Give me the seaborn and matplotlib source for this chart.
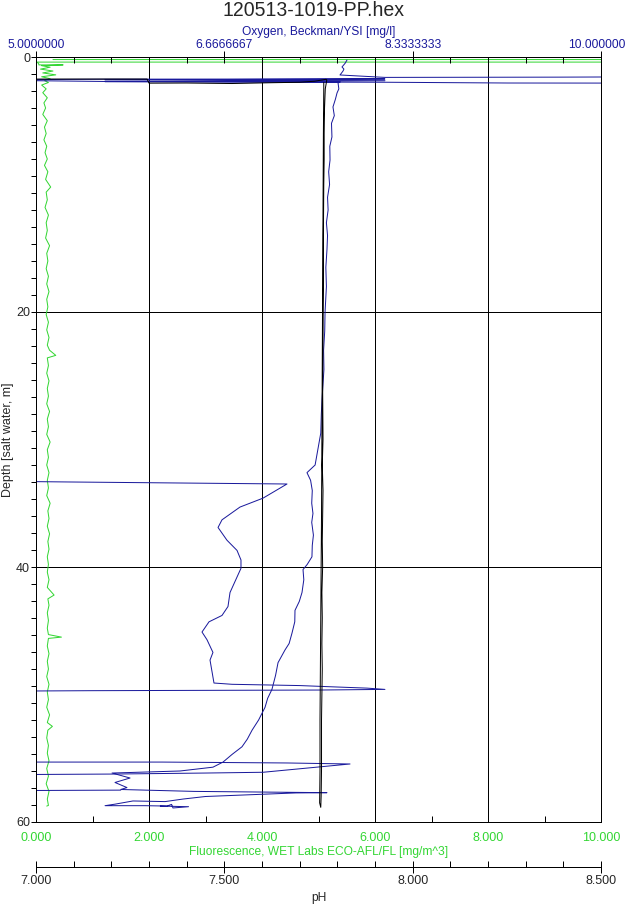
import warnings; warnings.filterwarnings("ignore")
import matplotlib
matplotlib.use("Agg")
import numpy as np
import pandas as pd
import matplotlib.pyplot as plt
from matplotlib.ticker import FixedLocator, FormatStrFormatter, FixedFormatter
from matplotlib.transforms import ScaledTranslation
import seaborn as sns

sns.set_theme(style="white")
plt.rcParams["font.family"] = ["Liberation Sans", "DejaVu Sans"]

GREEN = "#33d633"
NAVY  = "#1a1a9c"
OFF_L, OFF_R = 4.4, 10.6    # sensor values beyond the oxygen axis range

# ── Fluorescence (green) ─────────────────────────────────────────────────────
fl_depth = [0.20, 0.20, 0.40, 0.40, 0.55, 0.62, 0.62, 0.68, 0.80, 0.95, 1.10, 1.25, 1.40,
            1.55, 1.70, 1.85, 2.00, 2.20, 2.50, 2.80, 3.20, 3.60, 4.00, 4.50, 5.00, 5.50,
            6.00, 6.50, 7.00, 7.50, 8.00, 8.50, 9.00, 9.60, 10.2, 10.6, 11.2, 11.8, 12.4,
            13.0, 13.6, 14.2, 14.8, 15.4, 16.0, 16.6, 17.2, 17.8, 18.4, 19.0, 19.6, 20.2,
            20.8, 21.4, 22.0, 22.6, 23.0, 23.4, 23.6, 24.2, 24.8, 25.4, 26.0, 26.6, 27.2,
            27.8, 28.4, 29.0, 29.6, 30.2, 30.8, 31.4, 32.0, 32.6, 33.2, 33.8, 34.4, 35.0,
            35.6, 36.2, 36.8, 37.4, 38.0, 38.6, 39.2, 39.8, 40.4, 41.0, 41.6, 42.2, 42.5,
            43.0, 43.6, 44.2, 44.8, 45.3, 45.5, 45.6, 46.2, 46.8, 47.4, 48.0, 48.6, 49.2,
            49.8, 50.4, 51.0, 51.6, 52.2, 52.5, 52.8, 53.4, 54.0, 54.6, 55.2, 55.8, 56.4,
            57.0, 57.6, 58.2, 58.7, 58.75]
fl_value = [0.30, 10.6, 10.6, 0.02, 0.05, 0.05, 0.48, 0.10, 0.25, 0.08, 0.30, 0.12, 0.35,
            0.10, 0.25, 0.15, 0.22, 0.10, 0.18, 0.12, 0.20, 0.14, 0.17, 0.12, 0.20, 0.15,
            0.18, 0.14, 0.19, 0.16, 0.20, 0.15, 0.21, 0.17, 0.26, 0.18, 0.20, 0.16, 0.22,
            0.18, 0.20, 0.17, 0.24, 0.19, 0.21, 0.18, 0.22, 0.19, 0.23, 0.19, 0.21, 0.18,
            0.22, 0.19, 0.23, 0.20, 0.24, 0.35, 0.20, 0.22, 0.19, 0.23, 0.20, 0.22, 0.19,
            0.24, 0.20, 0.22, 0.19, 0.25, 0.20, 0.22, 0.19, 0.23, 0.20, 0.22, 0.19, 0.25,
            0.21, 0.23, 0.20, 0.24, 0.21, 0.23, 0.20, 0.22, 0.20, 0.23, 0.20, 0.32, 0.21,
            0.23, 0.20, 0.22, 0.20, 0.22, 0.45, 0.22, 0.20, 0.23, 0.20, 0.22, 0.19, 0.23,
            0.20, 0.22, 0.19, 0.24, 0.20, 0.29, 0.21, 0.19, 0.22, 0.20, 0.23, 0.19, 0.22,
            0.18, 0.23, 0.20, 0.22, 0.19]

# ── Oxygen (navy), several traces ────────────────────────────────────────────
ox_depth = [0.24, 0.50, 0.78, 0.95, 1.10, 1.30, 1.41, 1.60, 1.58, 1.55, 2.05, 2.04, 1.98,
            1.92, 1.80, 1.74, 1.72, 1.80, 1.86, 1.94, 1.96, 2.04, 2.50, 2.82, 3.30, 3.92,
            4.60, 5.20, 6.27, 7.00, 8.08, 9.00, 10.0, 11.0, 12.0, 13.0, 14.0, 15.1, 16.5,
            18.0, 20.0, 21.5, 23.0, 24.5, 26.9, 28.0, 29.5, 30.5, 31.6, 32.0, 32.6, 33.2,
            34.0, 35.0, 35.8, 36.5, 37.5, 38.3, 39.2, 39.8, 40.2, 41.0, 42.0, 42.7, 43.4,
            44.3, 45.2, 46.0, 46.5, 47.5, 48.5, 49.6, 50.3, 51.0, 52.0, 52.8, 53.5, 54.1,
            54.7, 55.3, 55.7, 56.0, 56.16, 56.55, 56.9, 57.3, 57.45, 57.6, 57.7, 57.72,
            58.0, 58.2, 58.4, 58.35, 58.6, 58.72, 58.72, 58.75, 58.62, 58.9, 58.8, 58.75,
            56.3, 56.24, 56.16, 56.1, 55.45, 55.37, 55.3, 55.3,
            57.55, 57.5,
            33.25, 33.33, 33.49, 34.6, 35.3, 36.3, 36.9, 37.9, 38.7, 39.45, 40.1, 42.0,
            43.1, 43.8, 44.3, 45.1, 45.7, 46.7, 47.3, 49.1, 49.2, 49.3, 49.4, 49.5, 49.6,
            49.65, 49.7, 49.75]
ox_mgl   = [7.752, 7.735, 7.708, 7.725, 7.717, 7.700, 7.690, 8.088, 9.619, OFF_R, OFF_R,
            9.177, 8.088, 5.611, OFF_L, 5.611, 8.088, 5.611, 8.088, 5.611, 7.690, 7.673,
            7.680, 7.664, 7.650, 7.628, 7.640, 7.615, 7.619, 7.600, 7.602, 7.590, 7.598,
            7.580, 7.585, 7.570, 7.580, 7.575, 7.565, 7.570, 7.558, 7.555, 7.545, 7.548,
            7.531, 7.525, 7.520, 7.500, 7.478, 7.470, 7.398, 7.430, 7.445, 7.440, 7.451,
            7.440, 7.455, 7.445, 7.442, 7.400, 7.363, 7.370, 7.354, 7.330, 7.292, 7.290,
            7.265, 7.240, 7.204, 7.142, 7.120, 7.088, 7.050, 7.027, 6.970, 6.912, 6.870,
            6.823, 6.735, 6.655, 6.566, 6.274, 5.673, 5.832, 5.699, 5.805, 5.750, 6.400,
            7.575, 7.300, 6.500, 6.301, 6.142, 5.858, 5.700, 5.611, 5.965, 6.159, 6.200,
            6.212, 6.350, 6.100,
            OFF_L, 5.673, 6.500, 7.009, 7.779, 7.221, 6.115, OFF_L,
            OFF_L, 5.750,
            OFF_L, 5.274, 7.221, 7.009, 6.805, 6.646, 6.611, 6.690, 6.779, 6.814, 6.814,
            6.717, 6.699, 6.646, 6.531, 6.469, 6.513, 6.566, 6.540, 6.575, 6.735, 7.336,
            7.628, 7.929, 8.088, 7.500, 5.500, OFF_L]
ox_trace = [0] * 102 + [1] * 8 + [2] * 2 + [3] * 28

# ── pH (black), down and up ──────────────────────────────────────────────────
ph_depth = [1.73, 1.73, 2.05, 2.04, 2.08, 2.02, 1.98, 1.90, 1.75, 1.80, 2.5, 4.0, 6.0,
            8.0, 10.0, 14.0, 18.0, 22.0, 26.0, 30.0, 32.0, 34.0, 36.0, 38.0, 40.0, 42.0,
            44.0, 46.0, 48.0, 50.0, 52.0, 54.0, 56.0, 58.0, 58.85, 58.5, 56.0, 52.0, 48.0,
            44.0, 40.0, 36.0, 30.0, 24.0, 18.0, 12.0, 6.0, 2.5, 2.0]
ph_value = [6.95, 7.295, 7.300, 7.400, 7.520, 7.620, 7.700, 7.740, 7.770, 7.772, 7.768,
            7.766, 7.765, 7.765, 7.764, 7.763, 7.763, 7.762, 7.761, 7.762, 7.760, 7.762,
            7.761, 7.760, 7.761, 7.759, 7.760, 7.759, 7.760, 7.759, 7.758, 7.758, 7.758,
            7.757, 7.756, 7.753, 7.754, 7.754, 7.755, 7.756, 7.757, 7.758, 7.759, 7.760,
            7.761, 7.762, 7.763, 7.764, 7.764]

fl = pd.DataFrame({"depth": fl_depth, "fluor": fl_value})
ox = pd.DataFrame({"depth": ox_depth, "oxygen": ox_mgl, "trace": ox_trace})
ph = pd.DataFrame({"depth": ph_depth, "ph": ph_value})

W, H = 626, 905
TICK_FS, LABEL_FS = 12.5, 12
fig = plt.figure(figsize=(W / 72, H / 72), dpi=72)
ax = fig.add_axes([36 / W, 1 - 822 / H, 565 / W, 765 / H])
ax2 = ax.twiny()
ax3 = ax.twiny()

sns.lineplot(data=fl, x="fluor", y="depth", sort=False, estimator=None,
             color=GREEN, lw=1, ax=ax)
sns.lineplot(data=ox, x="oxygen", y="depth", units="trace", sort=False, estimator=None,
             color=NAVY, lw=1, ax=ax2)
sns.lineplot(data=ph, x="ph", y="depth", sort=False, estimator=None,
             color="black", lw=1, ax=ax3)

# depth axis
ax.set_ylim(60, 0)
ax.yaxis.set_major_locator(FixedLocator([0, 20, 40, 60]))
ax.yaxis.set_minor_locator(FixedLocator([k * 20 / 15 for k in range(46)]))
ax.tick_params(axis="y", which="both", direction="out", length=5, width=1,
               color="black", labelsize=TICK_FS, pad=1, left=True)
ax.set_ylabel("Depth [salt water, m]", fontsize=12.5, labelpad=2)

# fluorescence axis (bottom)
ax.set_xlim(0, 10)
ax.xaxis.set_major_locator(FixedLocator([0, 2, 4, 6, 8, 10]))
ax.xaxis.set_minor_locator(FixedLocator([1, 3, 5, 7, 9]))
ax.xaxis.set_major_formatter(FormatStrFormatter("%.3f"))
ax.tick_params(axis="x", which="both", direction="in", length=6, width=1,
               color="black", labelcolor=GREEN, labelsize=TICK_FS, pad=10, bottom=True)
ax.set_xlabel("Fluorescence, WET Labs ECO-AFL/FL [mg/m^3]", color=GREEN,
              fontsize=LABEL_FS, labelpad=2)
ax.grid(True, which="major", color="black", lw=1)

# oxygen axis (top)
ax2.set_xlim(5, 10)
ax2.xaxis.set_major_locator(FixedLocator([5, 5 + 5 / 3, 5 + 10 / 3, 10]))
ax2.xaxis.set_major_formatter(FixedFormatter(["5.0000000", "6.6666667", "8.3333333", "10.000000"]))
ax2.xaxis.set_minor_locator(FixedLocator([5 + k / 3 for k in range(16)]))
ax2.tick_params(axis="x", which="major", direction="inout", length=12, width=1,
                color="black", labelcolor=NAVY, labelsize=12, pad=0)
ax2.tick_params(axis="x", which="minor", direction="in", length=6, width=1, color="black")
ax2.set_xlabel("Oxygen, Beckman/YSI [mg/l]", color=NAVY, fontsize=LABEL_FS, labelpad=4)
ax2.set_ylabel("")

# pH axis (detached, below)
ax3.set_xlim(7.0, 8.5)
ax3.xaxis.set_ticks_position("bottom")
ax3.xaxis.set_label_position("bottom")
ax3.spines["bottom"].set_position(("outward", 45))
for s in ["top", "left", "right"]:
    ax3.spines[s].set_visible(False)
ax3.xaxis.set_major_locator(FixedLocator([7.0, 7.5, 8.0, 8.5]))
ax3.xaxis.set_minor_locator(FixedLocator([7.0 + k / 10 for k in range(16)]))
ax3.xaxis.set_major_formatter(FormatStrFormatter("%.3f"))
ax3.tick_params(axis="x", which="major", direction="inout", length=12, width=1,
                color="black", labelsize=TICK_FS, pad=2)
ax3.tick_params(axis="x", which="minor", direction="in", length=6, width=1, color="black")
ax3.set_xlabel("pH", fontsize=LABEL_FS, labelpad=5)
ax3.set_ylabel("")

for a in (ax, ax2, ax3):
    for s in a.spines.values():
        s.set_color("black"); s.set_linewidth(1)
ax.set_ylim(60, 0)

fig.text(313 / W, 1 - 11 / H, "120513-1019-PP.hex", ha="center", va="center", fontsize=19.5)

# keep the last oxygen tick label inside the figure edge
fig.canvas.draw()
last = ax2.xaxis.get_major_ticks()[-1].label2
last.set_ha("right")
last.set_transform(last.get_transform() + ScaledTranslation(24 / 72, 0, fig.dpi_scale_trans))

fig.savefig("out.png", dpi=72)
